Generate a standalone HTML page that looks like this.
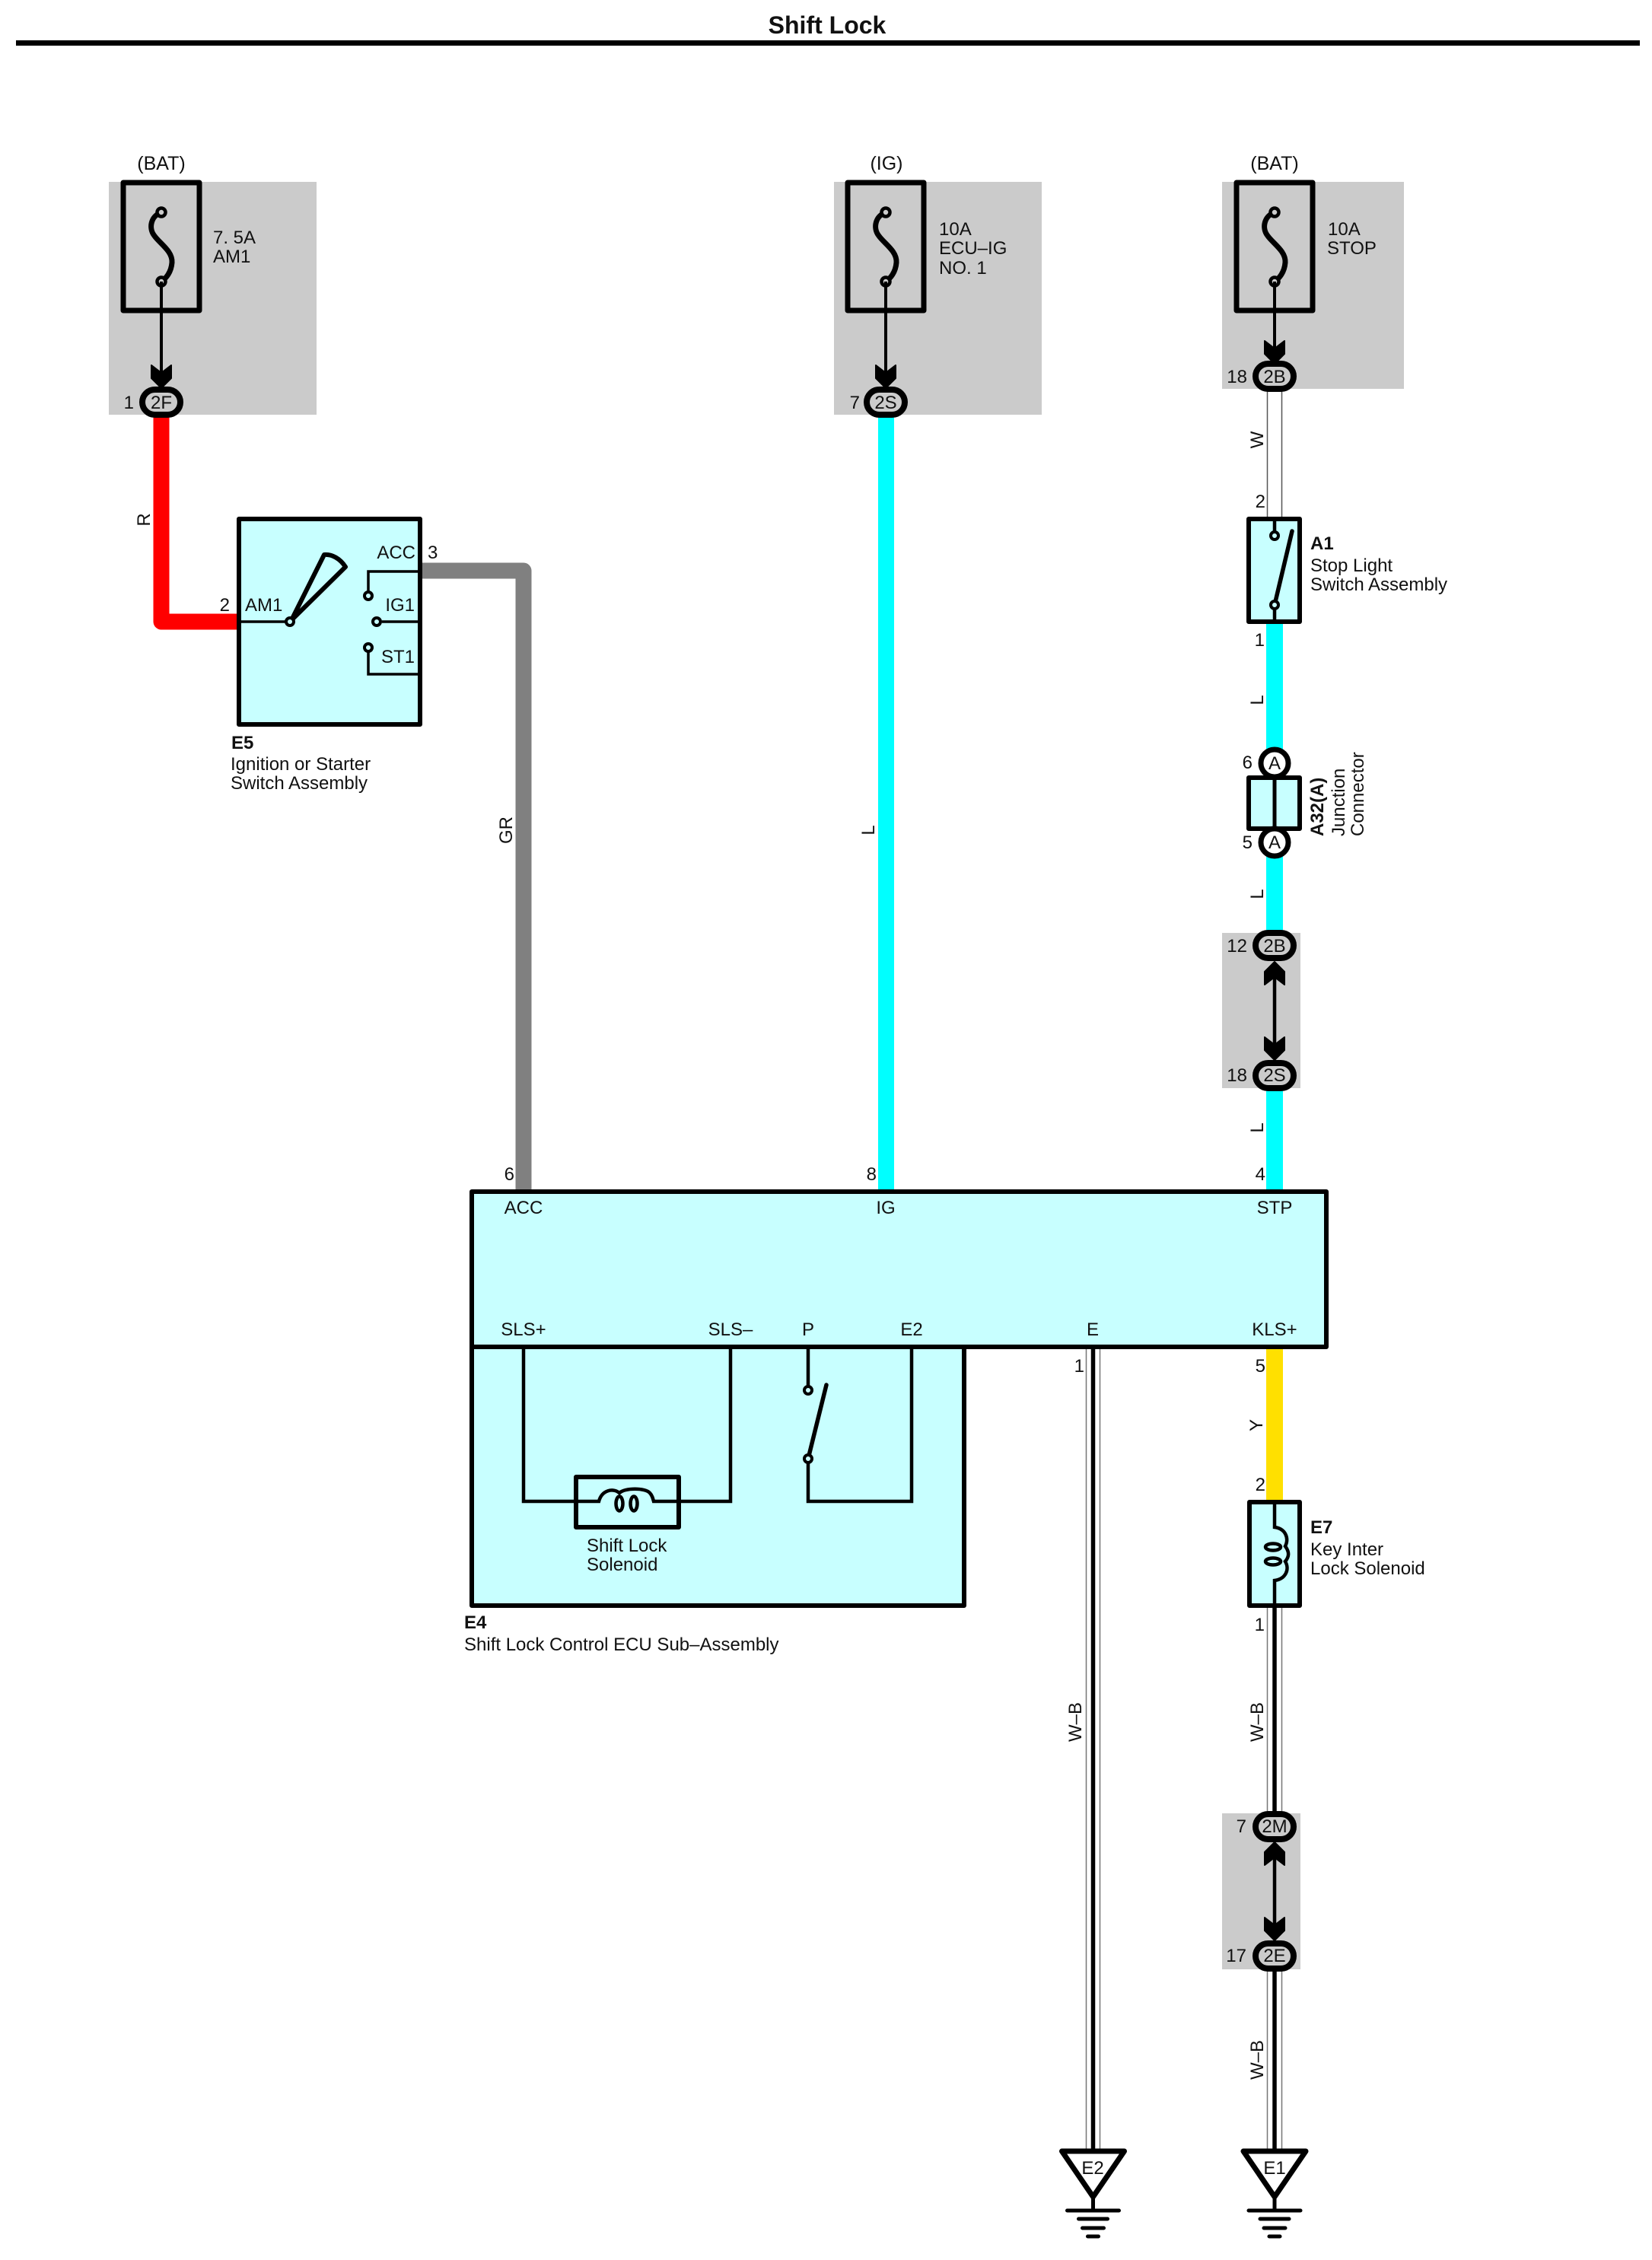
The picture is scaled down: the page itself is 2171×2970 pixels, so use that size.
<!DOCTYPE html>
<html><head><meta charset="utf-8"><title>Shift Lock</title>
<style>
html,body{margin:0;padding:0;background:#fff}
svg{display:block}
text{font-family:"Liberation Sans",sans-serif;font-size:24px;fill:#111}
.b{font-weight:bold}
.m{text-anchor:middle}
.e{text-anchor:end}
</style></head><body>
<svg width="2171" height="2970" viewBox="0 0 2171 2970" xmlns="http://www.w3.org/2000/svg">
<defs>
<path id="ad" d="M-13,-30 L0,-20 L13,-30 L13,-13 L0,0 L-13,-13Z" fill="#000" stroke="#000" stroke-width="2" stroke-linejoin="round"/>
<g id="fuse">
<rect x="-50" y="3" width="100" height="168" fill="none" stroke="#000" stroke-width="7" stroke-linejoin="round"/>
<path d="M0,42 C-14,47 -17,63 -9,73 C-2,83 15,93 14,108 C13,121 6,129 0,133" fill="none" stroke="#000" stroke-width="7"/>
<circle cx="0" cy="42" r="5.5" fill="#cbcbcb" stroke="#000" stroke-width="4.5"/>
<circle cx="0" cy="133" r="5.5" fill="#cbcbcb" stroke="#000" stroke-width="4.5"/>
</g>
<g id="gnd">
<path d="M-41,2 H41 L0,62 Z" fill="#fff" stroke="#000" stroke-width="7" stroke-linejoin="round"/>
<path d="M0,62 V80 M-34,80 H34 M-19,91 H19 M-14,103 H14 M-7,114 H7" fill="none" stroke="#000" stroke-width="5" stroke-linecap="round"/>
</g>
</defs>
<rect width="2171" height="2970" fill="#fff"/>

<!-- title -->
<text x="1087" y="44" class="b m" style="font-size:32px">Shift Lock</text>
<rect x="21" y="53" width="2134" height="7" fill="#000"/>

<!-- grey zones -->
<g fill="#cbcbcb">
<rect x="143" y="239" width="273" height="306"/>
<rect x="1096" y="239" width="273" height="306"/>
<rect x="1606" y="239" width="239" height="272"/>
<rect x="1606" y="1226" width="103" height="204"/>
<rect x="1606" y="2383" width="103" height="205"/>
</g>

<!-- coloured wires -->
<g fill="none" stroke-linejoin="round">
<path d="M212,548 V817 H312" stroke="#ff0000" stroke-width="21"/>
<path d="M555,750 H688 V1565" stroke="#808080" stroke-width="21"/>
<path d="M1164.5,548 V1565" stroke="#00ffff" stroke-width="21"/>
<path d="M1675,820 V1226 M1675,1430 V1565" stroke="#00ffff" stroke-width="22"/>
<path d="M1675,1773 V1971" stroke="#ffe000" stroke-width="22"/>
</g>

<!-- W wire -->
<path d="M1665.5,514 V679 M1684.5,514 V679" stroke="#555" stroke-width="1.5" fill="none"/>
<!-- W-B wires -->
<path d="M1427.5,1773 V2826 M1445.5,1773 V2826 M1665.5,2113 V2381 M1684.5,2113 V2381 M1665.5,2590 V2826 M1684.5,2590 V2826" stroke="#777" stroke-width="1.5" fill="none"/>
<path d="M1436.5,1773 V2826 M1675,2113 V2381 M1675,2590 V2826" stroke="#000" stroke-width="5.5" fill="none"/>

<!-- fuses -->
<use href="#fuse" x="212" y="237"/>
<use href="#fuse" x="1164" y="237"/>
<use href="#fuse" x="1675" y="237"/>
<path d="M212,370 V500 M1164,370 V500 M1675,370 V470" stroke="#000" stroke-width="4" fill="none"/>
<use href="#ad" x="212" y="510"/>
<use href="#ad" x="1164" y="510"/>
<use href="#ad" x="1675" y="478"/>
<text x="212" y="223" class="m" style="font-size:25px">(BAT)</text>
<text x="1165" y="223" class="m" style="font-size:25px">(IG)</text>
<text x="1675" y="223" class="m" style="font-size:25px">(BAT)</text>
<text x="280" y="320">7. 5A</text>
<text x="280" y="345">AM1</text>
<text x="1234" y="309">10A</text>
<text x="1234" y="334">ECU–IG</text>
<text x="1234" y="360">NO. 1</text>
<text x="1745" y="309">10A</text>
<text x="1744" y="334">STOP</text>

<!-- oval connectors -->
<g fill="#cbcbcb" stroke="#000" stroke-width="8">
<rect x="187" y="512" width="50" height="33" rx="16.5"/>
<rect x="1139" y="512" width="50" height="33" rx="16.5"/>
<rect x="1650" y="478" width="50" height="33" rx="16.5"/>
<rect x="1650" y="1226" width="50" height="33" rx="16.5"/>
<rect x="1650" y="1397" width="50" height="33" rx="16.5"/>
<rect x="1650" y="2384" width="50" height="33" rx="16.5"/>
<rect x="1650" y="2554" width="50" height="33" rx="16.5"/>
</g>
<text x="212" y="537" class="m">2F</text><text x="176" y="537" class="e">1</text>
<text x="1164" y="537" class="m">2S</text><text x="1130" y="537" class="e">7</text>
<text x="1675" y="503" class="m">2B</text><text x="1639" y="503" class="e">18</text>
<text x="1675" y="1251" class="m">2B</text><text x="1639" y="1251" class="e">12</text>
<text x="1675" y="1421" class="m">2S</text><text x="1639" y="1421" class="e">18</text>
<text x="1675" y="2408" class="m">2M</text><text x="1638" y="2408" class="e">7</text>
<text x="1675" y="2578" class="m">2E</text><text x="1638" y="2578" class="e">17</text>

<!-- double arrows -->
<path d="M1675,1270 V1385 M1675,2428 V2542" stroke="#000" stroke-width="4.5" fill="none"/>
<use href="#ad" transform="translate(1675 1264) scale(1 -1)"/>
<use href="#ad" x="1675" y="1393"/>
<use href="#ad" transform="translate(1675 2421) scale(1 -1)"/>
<use href="#ad" x="1675" y="2550"/>

<!-- E5 ignition -->
<rect x="314" y="682" width="238" height="270" fill="#c8ffff" stroke="#000" stroke-width="6" stroke-linejoin="round"/>
<g fill="none" stroke="#000" stroke-width="3.5">
<path d="M314,817 H375"/>
<path d="M550,751 H484 V778"/>
<path d="M550,817 H502"/>
<path d="M484,857 V886 H550"/>
</g>
<path d="M383,815 L426,729 C436,728 447,734 454,745 Z" fill="none" stroke="#000" stroke-width="6" stroke-linejoin="round"/>
<g fill="#c8ffff" stroke="#000" stroke-width="4">
<circle cx="381" cy="817" r="5"/>
<circle cx="484" cy="783" r="5"/>
<circle cx="495" cy="817" r="5"/>
<circle cx="484" cy="851" r="5"/>
</g>
<text x="322" y="803">AM1</text>
<text x="546" y="734" class="e">ACC</text>
<text x="545" y="803" class="e">IG1</text>
<text x="545" y="871" class="e">ST1</text>
<text x="302" y="803" class="e">2</text>
<text x="562" y="734">3</text>
<text x="304" y="984" class="b">E5</text>
<text x="303" y="1012">Ignition or Starter</text>
<text x="303" y="1037">Switch Assembly</text>

<!-- A1 -->
<rect x="1641" y="682" width="67" height="135" fill="#c8ffff" stroke="#000" stroke-width="6" stroke-linejoin="round"/>
<path d="M1675,682 V699 M1675,800 V817" stroke="#000" stroke-width="4.5" fill="none"/>
<path d="M1675,795 L1698,698" stroke="#000" stroke-width="5.5" stroke-linecap="round"/>
<circle cx="1675" cy="704" r="5" fill="#c8ffff" stroke="#000" stroke-width="4"/>
<circle cx="1675" cy="795" r="5" fill="#c8ffff" stroke="#000" stroke-width="4"/>
<text x="1663" y="667" class="e">2</text>
<text x="1662" y="849" class="e">1</text>
<text x="1722" y="722" class="b">A1</text>
<text x="1722" y="751">Stop Light</text>
<text x="1722" y="776">Switch Assembly</text>

<!-- A32 junction -->
<rect x="1641" y="1022" width="67" height="67" fill="#c8ffff" stroke="#000" stroke-width="6" stroke-linejoin="round"/>
<path d="M1675,1022 V1089" stroke="#000" stroke-width="5"/>
<circle cx="1675" cy="1003" r="18" fill="#fff" stroke="#000" stroke-width="7"/>
<circle cx="1675" cy="1107" r="18" fill="#fff" stroke="#000" stroke-width="7"/>
<text x="1675" y="1011" class="m">A</text>
<text x="1675" y="1115" class="m">A</text>
<text x="1646" y="1010" class="e">6</text>
<text x="1646" y="1115" class="e">5</text>
<text transform="translate(1739 1099) rotate(-90)" class="b">A32(A)</text>
<text transform="translate(1767 1099) rotate(-90)">Junction</text>
<text transform="translate(1792 1099) rotate(-90)">Connector</text>

<!-- ECU -->
<rect x="620" y="1770" width="647" height="340" fill="#c8ffff" stroke="#000" stroke-width="6" stroke-linejoin="round"/>
<rect x="620" y="1566" width="1123" height="204" fill="#c8ffff" stroke="#000" stroke-width="6" stroke-linejoin="round"/>
<g fill="none" stroke="#000" stroke-width="4.5">
<path d="M688,1773 V1973 H787"/>
<path d="M960,1773 V1973 H859"/>
<path d="M1062,1773 V1822"/>
<path d="M1062,1923 V1973 H1198 V1773"/>
</g>
<path d="M1062,1917 L1086,1820" stroke="#000" stroke-width="5.5" stroke-linecap="round"/>
<circle cx="1062" cy="1827" r="5" fill="#c8ffff" stroke="#000" stroke-width="4"/>
<circle cx="1062" cy="1917" r="5" fill="#c8ffff" stroke="#000" stroke-width="4"/>
<rect x="757" y="1941" width="135" height="66" fill="#c8ffff" stroke="#000" stroke-width="6" stroke-linejoin="round"/>
<g fill="none" stroke="#000" stroke-width="4.5">
<path d="M757,1973 H787 C791,1958 806,1955 814,1962 C821,1955 848,1955 854,1962 C857,1965 858,1969 859,1973 H892"/>
<ellipse cx="814" cy="1976" rx="4.5" ry="9.5"/>
<ellipse cx="833" cy="1976" rx="4.5" ry="9.5"/>
</g>
<text x="688" y="1595" class="m">ACC</text>
<text x="1164" y="1595" class="m">IG</text>
<text x="1675" y="1595" class="m">STP</text>
<text x="688" y="1755" class="m">SLS+</text>
<text x="960" y="1755" class="m">SLS–</text>
<text x="1062" y="1755" class="m">P</text>
<text x="1198" y="1755" class="m">E2</text>
<text x="1436" y="1755" class="m">E</text>
<text x="1675" y="1755" class="m">KLS+</text>
<text x="771" y="2039">Shift Lock</text>
<text x="771" y="2064">Solenoid</text>
<text x="610" y="2140" class="b">E4</text>
<text x="610" y="2169">Shift Lock Control ECU Sub–Assembly</text>
<text x="676" y="1551" class="e">6</text>
<text x="1152" y="1551" class="e">8</text>
<text x="1663" y="1551" class="e">4</text>
<text x="1425" y="1803" class="e">1</text>
<text x="1663" y="1803" class="e">5</text>

<!-- E7 -->
<rect x="1642" y="1974" width="66" height="136" fill="#c8ffff" stroke="#000" stroke-width="6" stroke-linejoin="round"/>
<g fill="none" stroke="#000" stroke-width="4.5">
<path d="M1675,1974 V2007 C1690,2009 1694,2022 1689,2032 C1695,2040 1694,2046 1689,2052 C1695,2062 1690,2075 1675,2077 V2110"/>
<ellipse cx="1673" cy="2033" rx="10" ry="4.5"/>
<ellipse cx="1673" cy="2052" rx="10" ry="4.5"/>
</g>
<text x="1663" y="1959" class="e">2</text>
<text x="1662" y="2143" class="e">1</text>
<text x="1722" y="2015" class="b">E7</text>
<text x="1722" y="2044">Key Inter</text>
<text x="1722" y="2069">Lock Solenoid</text>

<!-- grounds -->
<use href="#gnd" x="1436.5" y="2825"/>
<use href="#gnd" x="1675" y="2825"/>
<text x="1436" y="2857" class="m">E2</text>
<text x="1675" y="2857" class="m">E1</text>

<!-- wire labels -->
<text transform="translate(197 683) rotate(-90)" class="m">R</text>
<text transform="translate(673 1091) rotate(-90)" class="m">GR</text>
<text transform="translate(1149 1091) rotate(-90)" class="m">L</text>
<text transform="translate(1660 578) rotate(-90)" class="m">W</text>
<text transform="translate(1660 920) rotate(-90)" class="m">L</text>
<text transform="translate(1660 1175) rotate(-90)" class="m">L</text>
<text transform="translate(1660 1482) rotate(-90)" class="m">L</text>
<text transform="translate(1659 1873) rotate(-90)" class="m">Y</text>
<text transform="translate(1421 2263) rotate(-90)" class="m">W–B</text>
<text transform="translate(1660 2263) rotate(-90)" class="m">W–B</text>
<text transform="translate(1660 2707) rotate(-90)" class="m">W–B</text>
</svg>
</body></html>
